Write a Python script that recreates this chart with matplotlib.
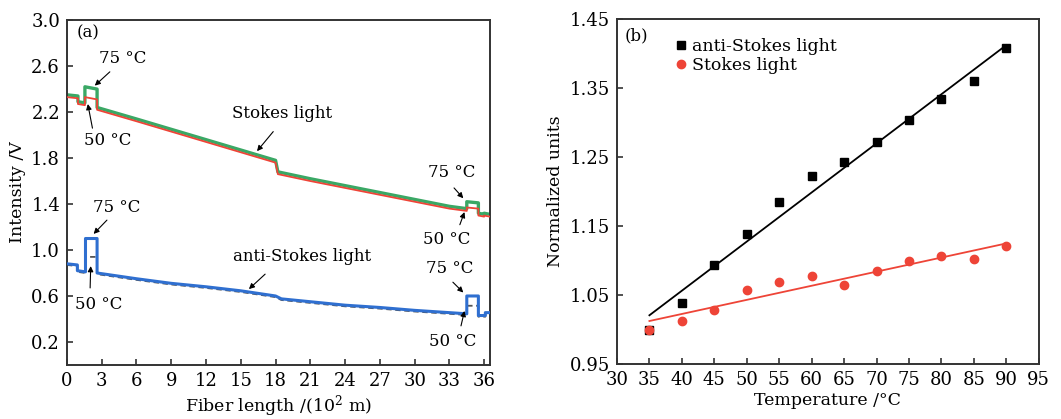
import numpy as np
import matplotlib
matplotlib.use("Agg")
import matplotlib.pyplot as plt

plt.rcParams['font.family'] = ['DejaVu Serif']
plt.rcParams['mathtext.fontset'] = 'dejavuserif'

# ---- panel (a): intensity traces along the fiber ----
stokes_x = [0, 0.95, 0.95, 1.55, 1.55, 2.6, 2.6, 6, 9, 12, 15, 18, 18.2, 21, 24, 27,
            30, 33, 34.5, 34.5, 35.5, 35.5, 36.0, 36.0, 36.5]
stokes_75 = [2.35, 2.34, 2.29, 2.28, 2.42, 2.40, 2.24, 2.14, 2.05, 1.96, 1.87, 1.78, 1.68,
             1.62, 1.56, 1.50, 1.44, 1.38, 1.36, 1.42, 1.41, 1.32, 1.31, 1.32, 1.31]
stokes_50 = [2.33, 2.32, 2.27, 2.26, 2.33, 2.31, 2.22, 2.12, 2.03, 1.94, 1.85, 1.76, 1.66,
             1.60, 1.54, 1.48, 1.42, 1.36, 1.34, 1.37, 1.36, 1.30, 1.29, 1.30, 1.29]

anti_x = [0, 0.9, 0.9, 1.6, 1.6, 2.6, 2.6, 6, 9, 12, 15, 18, 18.5, 21, 24, 27, 30, 33,
          34.5, 34.5, 35.5, 35.5, 36.1, 36.1, 36.5]
anti_75 = [0.88, 0.87, 0.82, 0.81, 1.10, 1.10, 0.80, 0.75, 0.71, 0.68, 0.645, 0.60, 0.575,
           0.55, 0.52, 0.50, 0.475, 0.455, 0.445, 0.60, 0.60, 0.43, 0.43, 0.455, 0.455]
anti_50 = [0.87, 0.86, 0.81, 0.80, 0.94, 0.94, 0.79, 0.74, 0.70, 0.67, 0.635, 0.59, 0.565,
           0.54, 0.51, 0.49, 0.465, 0.445, 0.435, 0.515, 0.515, 0.42, 0.42, 0.445, 0.445]

# ---- panel (b): normalized units vs temperature ----
temps = [35, 40, 45, 50, 55, 60, 65, 70, 75, 80, 85, 90]
anti_norm = [1.000, 1.039, 1.093, 1.138, 1.185, 1.222, 1.242, 1.271, 1.304, 1.334, 1.360, 1.408]
stokes_norm = [1.000, 1.012, 1.029, 1.058, 1.069, 1.077, 1.065, 1.085, 1.099, 1.106, 1.102, 1.121]

GREEN = '#3aa865'
RED = '#ee4437'
BLUE = '#2f6fd0'
GRAY = '#555555'
SPINE = '#333333'

fig = plt.figure(figsize=(10.61, 4.19), dpi=100)
ax1 = fig.add_axes([0.0631, 0.129, 0.3987, 0.823])
ax2 = fig.add_axes([0.5815, 0.131, 0.3975, 0.824])


def style_axes(ax):
    for s in ax.spines.values():
        s.set_color(SPINE)
        s.set_linewidth(1.4)
    ax.tick_params(direction='in', length=4, width=1.2, color=SPINE, labelsize=13,
                   pad=5)


def arrow(ax, tip, tail):
    ax.annotate('', xy=tip, xytext=tail,
                arrowprops=dict(arrowstyle='-|>', color='k', lw=0.8, mutation_scale=8,
                                shrinkA=0, shrinkB=0))


# panel (a)
ax1.plot(stokes_x, stokes_75, color=GREEN, lw=2.4, zorder=2)
ax1.plot(stokes_x, stokes_50, color=RED, lw=1.3, zorder=3)
ax1.plot(anti_x, anti_50, color=GRAY, lw=1.3, ls=(0, (3, 2)), zorder=2)
ax1.plot(anti_x, anti_75, color=BLUE, lw=2.2, zorder=3)

ax1.set_xlim(0, 36.5)
ax1.set_ylim(0, 3.0)
ax1.set_xticks(np.arange(0, 37, 3))
ax1.set_yticks(np.arange(0.2, 3.01, 0.4))
ax1.set_yticklabels([f'{v:.1f}' for v in np.arange(0.2, 3.01, 0.4)])
ax1.set_xlabel('Fiber length /(10$^{2}$ m)', fontsize=12.5, labelpad=2)
ax1.set_ylabel('Intensity /V', fontsize=12.5, labelpad=4)
style_axes(ax1)

fs = 12
ax1.text(0.8, 2.89, '(a)', fontsize=fs, va='center')
ax1.text(4.8, 2.67, '75 °C', fontsize=fs, ha='center', va='center')
arrow(ax1, (2.4, 2.43), (3.7, 2.55))
ax1.text(3.5, 1.95, '50 °C', fontsize=fs, ha='center', va='center')
arrow(ax1, (1.8, 2.27), (2.2, 2.06))
ax1.text(18.6, 2.19, 'Stokes light', fontsize=fs, ha='center', va='center')
arrow(ax1, (16.4, 1.86), (17.8, 2.03))
ax1.text(33.2, 1.67, '75 °C', fontsize=fs, ha='center', va='center')
arrow(ax1, (34.2, 1.45), (33.4, 1.54))
ax1.text(32.8, 1.09, '50 °C', fontsize=fs, ha='center', va='center')
arrow(ax1, (34.3, 1.33), (33.9, 1.22))
ax1.text(4.3, 1.37, '75 °C', fontsize=fs, ha='center', va='center')
arrow(ax1, (2.3, 1.14), (3.45, 1.26))
ax1.text(2.7, 0.53, '50 °C', fontsize=fs, ha='center', va='center')
arrow(ax1, (2.05, 0.86), (2.0, 0.67))
ax1.text(20.3, 0.94, 'anti-Stokes light', fontsize=fs, ha='center', va='center')
arrow(ax1, (15.7, 0.66), (17.1, 0.79))
ax1.text(33.0, 0.84, '75 °C', fontsize=fs, ha='center', va='center')
arrow(ax1, (34.2, 0.63), (33.3, 0.72))
ax1.text(33.3, 0.20, '50 °C', fontsize=fs, ha='center', va='center')
arrow(ax1, (34.3, 0.47), (34.0, 0.34))

# panel (b)
t = np.array(temps)
fit_a = np.polyfit(t, anti_norm, 1)
fit_s = np.polyfit(t, stokes_norm, 1)
ax2.plot(t, np.polyval(fit_a, t), color='k', lw=1.3, zorder=2)
ax2.plot(t, np.polyval(fit_s, t), color=RED, lw=1.3, zorder=2)
ax2.plot(t, anti_norm, ls='none', marker='s', ms=6, color='k', zorder=3,
         label='anti-Stokes light')
ax2.plot(t, stokes_norm, ls='none', marker='o', ms=6, color=RED, zorder=4,
         label='Stokes light')

ax2.set_xlim(30, 95)
ax2.set_ylim(0.95, 1.45)
ax2.set_xticks(np.arange(30, 96, 5))
yt = np.arange(0.95, 1.451, 0.1)
ax2.set_yticks(yt)
ax2.set_yticklabels([f'{v:.2f}' for v in yt])
ax2.set_xlabel('Temperature /°C', fontsize=12.5, labelpad=2)
ax2.set_ylabel('Normalized units', fontsize=12.5, labelpad=4)
style_axes(ax2)
ax2.text(31.2, 1.426, '(b)', fontsize=fs, va='center')
ax2.legend(loc='upper left', bbox_to_anchor=(0.115, 0.965), frameon=False, fontsize=12.5,
           handletextpad=0.15, borderaxespad=0, labelspacing=0.1, handlelength=1.0)

fig.savefig('out.png', dpi=100)
